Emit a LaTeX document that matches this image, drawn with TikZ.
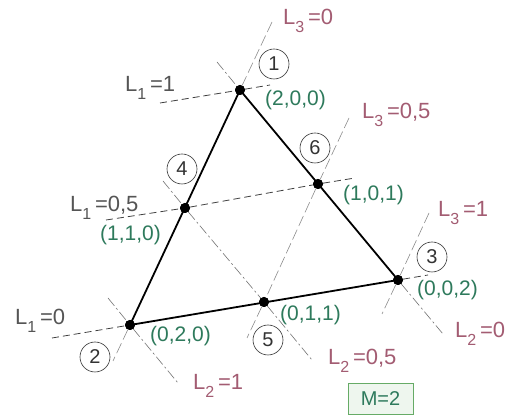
\documentclass[tikz,border=0pt]{standalone}
\usepackage{fontspec}
\setmainfont{Liberation Sans}
\usepackage{tikz}
\usetikzlibrary{calc,positioning}
\definecolor{lgray}{HTML}{555555}
\definecolor{mauve}{HTML}{A35C72}
\definecolor{coordgreen}{HTML}{2E7A5C}
\definecolor{boxgreen}{HTML}{EEF6EE}
\newcommand{\Llab}[2]{L\raisebox{-0.32em}{\fontsize{16}{16}\selectfont #1}\,=#2}
\tikzset{
	vertex/.style={circle, fill=black, inner sep=0pt, minimum size=10pt},
	edge/.style={line width=1.8pt, black},
	lone/.style={dashed, dash pattern=on 7pt off 4pt, line width=0.8pt, black!75},
	ltwo/.style={dash pattern=on 10pt off 3pt on 2pt off 3pt, line width=0.6pt, black!55},
	lthree/.style={dash pattern=on 11pt off 4pt, line width=0.6pt, black!45},
	labone/.style={anchor=base west, inner sep=0pt, text=lgray, font=\fontsize{22}{22}\selectfont},
	labtwo/.style={labone, text=mauve},
	coordlab/.style={anchor=base west, inner sep=0pt, text=coordgreen, font=\fontsize{21}{21}\selectfont},
	numcirc/.style={circle, draw=black!80, line width=0.6pt, inner sep=0pt, minimum size=30pt, font=\fontsize{20}{20}\selectfont, text=black!80},
	mbox/.style={draw=black!55!green!60, fill=boxgreen, line width=0.8pt, minimum width=65pt, minimum height=31pt, inner sep=0pt, text=coordgreen, font=\fontsize{20}{20}\selectfont}
}
\begin{document}
\begin{tikzpicture}[x=1pt,y=-1pt]
	\useasboundingbox[fill=white] (0,0) rectangle (520,419);
	\node[vertex] (n1) at (240,90) {};
	\node[vertex] (n2) at (130,325) {};
	\node[vertex] (n3) at (398,280) {};
	\node[vertex] (n4) at (185,208) {};
	\node[vertex] (n5) at (264,302) {};
	\node[vertex] (n6) at (318,184) {};
	\coordinate (a1) at (160,103);
	\coordinate (b1) at (270,85);
	\coordinate (a2) at (106,220);
	\coordinate (b2) at (355,178);
	\coordinate (a3) at (52,338);
	\coordinate (b3) at (428,275);
	\coordinate (c1) at (217,62);
	\coordinate (d1) at (443,334);
	\coordinate (c2) at (163,181);
	\coordinate (d2) at (312,360);
	\coordinate (c3) at (108,298);
	\coordinate (d3) at (178,383);
	\coordinate (e1) at (272,22);
	\coordinate (f1) at (113,361);
	\coordinate (e2) at (349,118);
	\coordinate (f2) at (247,338);
	\coordinate (e3) at (429,213);
	\coordinate (f3) at (382,314);
	\draw[lone] (a1) -- (n1) -- (b1);
	\draw[lone] (a2) -- (n4) -- (n6) -- (b2);
	\draw[lone] (a3) -- (n2) (n3) -- (b3);
	\draw[ltwo] (c1) -- (n1) (n3) -- (d1);
	\draw[ltwo] (c2) -- (n4) -- (n5) -- (d2);
	\draw[ltwo] (c3) -- (n2) -- (d3);
	\draw[lthree] (e1) -- (n1) (n2) -- (f1);
	\draw[lthree] (e2) -- (n6) -- (n5) -- (f2);
	\draw[lthree] (e3) -- (n3) -- (f3);
	\draw[edge] (n1.center) -- (n2.center) -- (n3.center) -- (n1.center);
	\foreach \v in {n1,n2,n3,n4,n5,n6}
		\node[vertex] at (\v) {};
	\node[labone] (t1a) at (125,92) {\Llab{1}{1}};
	\node[labone] (t1b) at (70,212) {\Llab{1}{0,5}};
	\node[labone] (t1c) at (15,325) {\Llab{1}{0}};
	\node[labtwo] (t2a) at (455,338) {\Llab{2}{0}};
	\node[labtwo] (t2b) at (328,365) {\Llab{2}{0,5}};
	\node[labtwo] (t2c) at (193,390) {\Llab{2}{1}};
	\node[labtwo] (t3a) at (283,25) {\Llab{3}{0}};
	\node[labtwo] (t3b) at (362,119) {\Llab{3}{0,5}};
	\node[labtwo] (t3c) at (438,217) {\Llab{3}{1}};
	\node[coordlab] (k1) at (265,106) {(2,0,0)};
	\node[coordlab] (k2) at (150,342) {(0,2,0)};
	\node[coordlab] (k3) at (417,296) {(0,0,2)};
	\node[coordlab] (k4) at (100,241) {(1,1,0)};
	\node[coordlab] (k5) at (280,321) {(0,1,1)};
	\node[coordlab] (k6) at (343,201) {(1,0,1)};
	\node[numcirc] (c1n) at (274,64) {1};
	\node[numcirc] (c2n) at (95,357) {2};
	\node[numcirc] (c3n) at (432,257) {3};
	\node[numcirc] (c4n) at (182,169) {4};
	\node[numcirc] (c5n) at (268,340) {5};
	\node[numcirc] (c6n) at (315,148) {6};
	\node[mbox] (mval) at (380.5,399) {M=2};
\end{tikzpicture}
\end{document}
